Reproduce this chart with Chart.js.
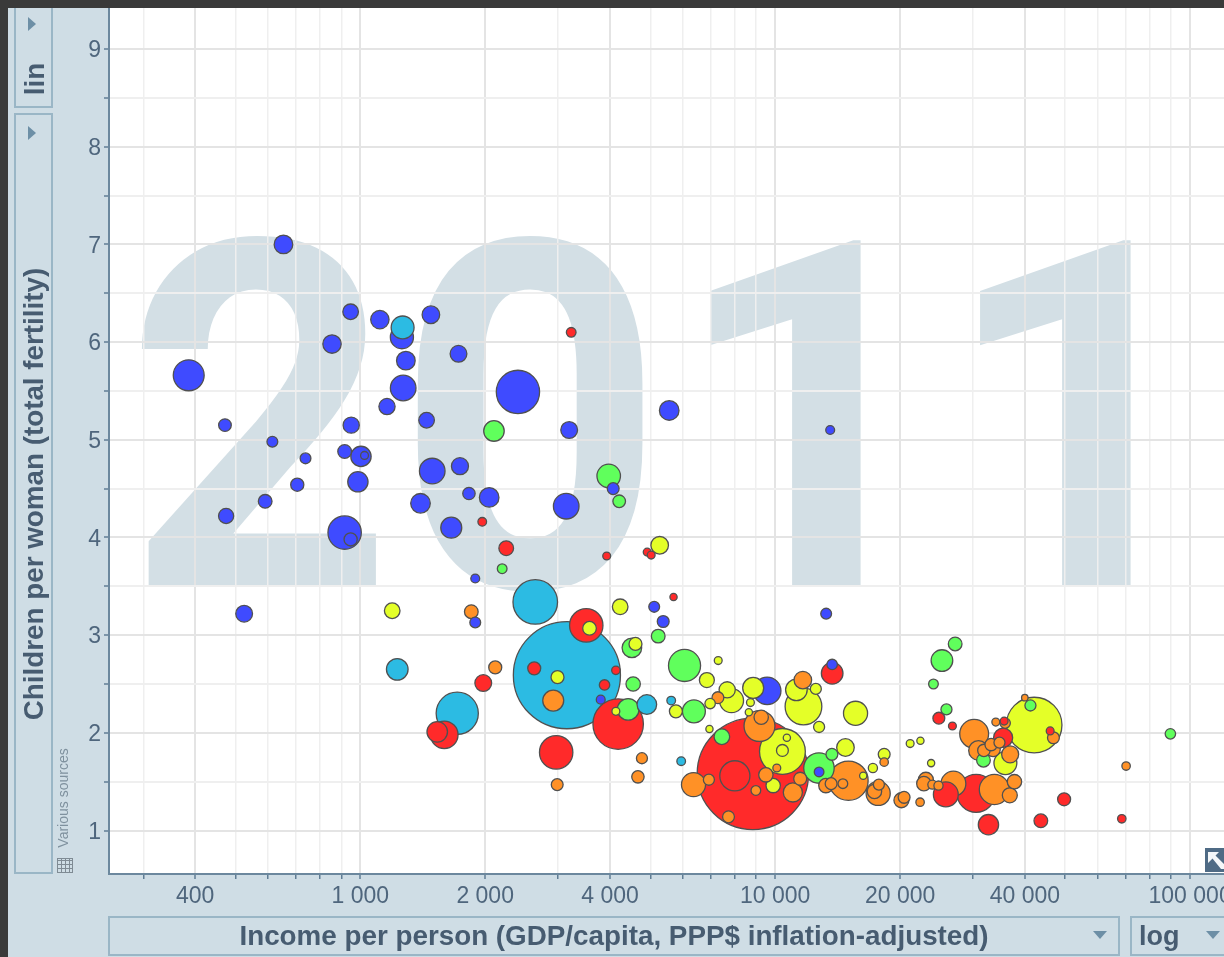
<!DOCTYPE html>
<html>
<head>
<meta charset="utf-8">
<title>Children per woman vs income, 2011</title>
<script src="https://cdn.jsdelivr.net/npm/chart.js@4/dist/chart.umd.min.js"></script>
<style>
    html, body { margin: 0; padding: 0; width: 1224px; height: 957px; overflow: hidden; background: #cfdde5; }
    body { font-family: "Liberation Sans", Arial, sans-serif; position: relative; }
    canvas { position: absolute; left: 0; top: 0; }
    .frameTop { position: absolute; left: 0; top: 0; width: 1224px; height: 8px; background: #3a3a3a; }
    .frameLeft { position: absolute; left: 0; top: 0; width: 8px; height: 957px; background: #3a3a3a; }
    .box { position: absolute; box-sizing: border-box; border: 2px solid #9ab6c6; }
    .label { position: absolute; white-space: nowrap; font-weight: bold; color: #475c71; }
    .rot { transform: translate(-50%, -50%) rotate(-90deg); }
    .right { position: absolute; width: 0; height: 0; border-top: 7px solid transparent; border-bottom: 7px solid transparent; border-left: 8px solid #6d8fa6; }
    .down { position: absolute; width: 0; height: 0; border-left: 7px solid transparent; border-right: 7px solid transparent; border-top: 8px solid #6d8fa6; }
    .sources { position: absolute; white-space: nowrap; font-size: 14px; color: #7f919e; }
    .tableIcon {
        position: absolute; left: 57px; top: 858px; width: 16px; height: 15px; box-sizing: border-box;
        border: 1px solid #7f8b94;
        background-image:
            repeating-linear-gradient(90deg, transparent 0 3px, #7f8b94 3px 4px),
            repeating-linear-gradient(0deg, transparent 0 3px, #7f8b94 3px 4px);
    }
</style>
</head>
<body>
<canvas id="chart" width="1224" height="957"></canvas>

<div class="box" style="left:14px; top:6px; width:39px; height:102px;"></div>
<div class="right" style="left:28px; top:17px;"></div>
<div class="label rot" style="left:35px; top:79px; font-size:28px;">lin</div>

<div class="box" style="left:14px; top:113px; width:39px; height:761px;"></div>
<div class="right" style="left:28px; top:126px;"></div>
<div class="label rot" style="left:34px; top:494px; font-size:27.8px;">Children per woman (total fertility)</div>

<div class="sources rot" style="left:63px; top:798px;">Various sources</div>
<div class="tableIcon"></div>

<div class="box" style="left:108px; top:916px; width:1012px; height:40px;"></div>
<div class="label" style="left:614px; top:936px; font-size:27.8px; transform:translate(-50%,-50%);">Income per person (GDP/capita, PPP$ inflation-adjusted)</div>
<div class="down" style="left:1093px; top:931px;"></div>

<div class="box" style="left:1130px; top:916px; width:110px; height:40px;"></div>
<div class="label" style="left:1139px; top:936px; font-size:27px; transform:translateY(-50%);">log</div>
<div class="down" style="left:1206px; top:931px;"></div>

<svg style="position:absolute; left:1205px; top:848px;" width="19" height="24" viewBox="0 0 19 24">
    <rect width="19" height="24" fill="#4f6b85"/>
    <path d="M3 4 H14 L10.5 7.5 L19 16 L19 21 L16 21 L7.5 10.5 L3 15 Z" fill="#f4f7f9"/>
</svg>

<div class="frameTop"></div>
<div class="frameLeft"></div>

<script>
// Axis ticks
const xTickValues = [300, 400, 500, 600, 700, 800, 900, 1000, 2000, 3000, 4000, 5000, 6000, 7000, 8000, 9000,
    10000, 20000, 30000, 40000, 50000, 60000, 70000, 80000, 90000, 100000];
const xLabelledTicks = [400, 1000, 2000, 4000, 10000, 20000, 40000, 100000];
const yTickValues = [1, 1.5, 2, 2.5, 3, 3.5, 4, 4.5, 5, 5.5, 6, 6.5, 7, 7.5, 8, 8.5, 9];
const yearLabel = '2011';

// Sub-Saharan Africa
const africaIncome = [386, 653, 948, 1115, 855, 1260, 1480, 1288, 1725, 1269, 2399, 1160, 1445, 472, 951, 614,
    917, 1004, 1024, 738, 1491, 1739, 987, 705, 1828, 2045, 590, 1397, 475, 1657, 917, 948,
    3136, 3188, 5554, 525, 1893, 1893, 4070, 13570, 13270, 5110, 5372, 3798, 9566, 13720, 12760];
const africaFertility = [5.66, 7.00, 6.31, 6.23, 5.98, 6.05, 6.28, 5.81, 5.88, 5.53, 5.49, 5.34, 5.20, 5.15, 5.15, 4.98,
    4.88, 4.83, 4.84, 4.81, 4.68, 4.73, 4.57, 4.54, 4.45, 4.41, 4.37, 4.35, 4.22, 4.10, 4.05, 3.98,
    4.32, 5.10, 5.30, 3.22, 3.58, 3.13, 4.50, 5.10, 3.22, 3.29, 3.14, 2.34, 2.43, 2.70, 1.60];
const africaPopulation = [102, 37, 26, 36, 36, 57, 33, 37, 30, 70, 200, 28, 26, 17, 28, 12.5,
    20, 44, 6.6, 12.5, 70, 31, 44, 18.5, 16.4, 41, 20, 41, 24.5, 47, 119, 18.5,
    70, 30, 41, 30, 8.4, 12.5, 15, 8.4, 12.5, 12.5, 15, 8.4, 81, 11.6, 10];

// South Asia
const southAsiaIncome = [1265, 2641, 3148, 1713, 1228, 4906, 5616, 5936];
const southAsiaFertility = [6.15, 3.34, 2.59, 2.20, 2.65, 2.29, 2.33, 1.71];
const southAsiaPopulation = [56, 212, 1225, 190, 50, 41, 8, 8];

// Middle East and North Africa
const middleEastIncome = [2100, 3970, 4208, 2198, 4515, 5225, 4547, 4423, 6047, 6370, 7440, 12750, 13700,
    25230, 27150, 24070, 25870, 41230, 31770, 89640];
const middleEastFertility = [5.09, 4.63, 4.37, 3.68, 2.87, 2.99, 2.50, 2.24, 2.69, 2.22, 1.96, 1.64, 1.78,
    2.74, 2.91, 2.50, 2.24, 2.28, 1.72, 1.99];
const middleEastPopulation = [45, 59, 17, 10, 41, 20, 22, 50, 110, 56, 26, 99, 15,
    50, 20, 10, 13, 13, 20, 11.6];

// America
const americaIncome = [1194, 5268, 4231, 3569, 2988, 4606, 4131, 5764, 6845, 7290, 6970, 7662, 7848, 8851, 8717, 8640,
    6944, 9890, 10410, 10410, 10670, 11250, 11700, 12530, 12760, 15620, 14770, 16300, 17200, 18310, 21150, 22390,
    23760, 42090, 35880];
const americaFertility = [3.25, 3.92, 3.29, 3.07, 2.57, 2.91, 2.22, 2.22, 2.54, 2.74, 2.30, 2.44, 2.33, 2.46, 2.31, 2.21,
    2.04, 1.46, 1.81, 1.82, 1.95, 2.44, 2.27, 2.45, 2.06, 2.20, 1.85, 1.56, 1.64, 1.78, 1.89, 1.92,
    1.69, 2.08, 1.69];
const americaPopulation = [26, 33, 26, 20, 18, 18, 6.6, 18, 24, 6.6, 11.6, 28, 62, 47, 6.6, 5.6,
    5.6, 22, 224, 15, 5.6, 50, 144, 13, 13, 62, 33, 5.6, 9, 15, 6.6, 5.6,
    5.6, 330, 56];

// Europe and Central Asia
const europeIncome = [1852, 2115, 2918, 2983, 4774, 4669, 7277, 6356, 6922, 7718, 8984, 9497, 9166, 9254, 10090,
    11030, 11490, 11660, 13250, 13640, 15020, 14560, 17710, 17350, 17780, 18310, 20150, 20450, 22350, 22820,
    23080, 23930, 24750, 26890, 33750, 36770, 37730, 30170, 30900, 31840, 33510, 33150, 34720, 36840, 34020,
    35830, 46840, 39960, 70110];
const europeFertility = [3.24, 2.67, 2.33, 1.47, 1.74, 1.55, 2.36, 1.47, 1.52, 1.14, 1.41, 1.57, 2.07, 2.16, 1.64,
    1.39, 1.53, 2.54, 1.46, 1.48, 1.51, 1.48, 1.38, 1.40, 1.47, 1.70, 1.31, 1.34, 1.29, 1.48,
    1.52, 1.47, 1.46, 1.48, 1.42, 1.36, 1.50, 1.99, 1.82, 1.82, 1.83, 1.88, 1.90, 1.78, 2.11,
    2.10, 1.95, 2.36, 1.66];
const europePopulation = [20, 18, 47, 15, 13, 16.4, 15, 62, 13, 15, 10, 22, 102, 22, 6.6,
    39, 18, 33, 22, 15, 165, 10, 62, 22, 13, 7.6, 24, 15, 7.6, 22,
    24, 9, 9, 66, 97, 24, 22, 89, 41, 16.4, 22, 16.4, 13, 31, 6.6,
    11.6, 15, 4.5, 7.6];

// East Asia and Pacific
const eastAsiaIncome = [3224, 1968, 2248, 3926, 4915, 5025, 5689, 3505, 2626, 4131, 3879, 1979, 4184, 2966, 1594,
    1533, 8836, 7995, 13720, 24800, 26740, 25780, 30500, 32660, 35430, 35630, 46000, 43680, 49700, 68450];
const eastAsiaFertility = [6.10, 4.16, 3.89, 3.81, 3.85, 3.82, 3.39, 3.10, 2.66, 2.64, 2.49, 2.51, 2.09, 1.80, 1.98,
    2.01, 1.58, 1.56, 2.61, 2.15, 2.07, 1.37, 1.38, 1.06, 1.95, 2.12, 2.02, 1.10, 1.32, 1.12];
const eastAsiaPopulation = [10, 8, 23, 6.6, 6.6, 6.6, 5.6, 119, 18, 7.6, 11.6, 30, 272, 119, 81,
    45, 1326, 97, 50, 15, 6.6, 66, 154, 44, 39, 6.6, 6.6, 20, 18, 7.6];

// Build one table with every country, biggest first so small bubbles stay on top
function addRegion(rows, income, fertility, population, color) {
    income.forEach((value, i) => {
        rows.push({ x: value, y: fertility[i], population: population[i], color: color });
    });
}

const rows = [];
addRegion(rows, africaIncome, africaFertility, africaPopulation, '#3f4bff');
addRegion(rows, southAsiaIncome, southAsiaFertility, southAsiaPopulation, '#2cbbe3');
addRegion(rows, middleEastIncome, middleEastFertility, middleEastPopulation, '#60ff5c');
addRegion(rows, americaIncome, americaFertility, americaPopulation, '#e4ff28');
addRegion(rows, europeIncome, europeFertility, europePopulation, '#ff9126');
addRegion(rows, eastAsiaIncome, eastAsiaFertility, eastAsiaPopulation, '#ff2a2a');
rows.sort((a, b) => b.population - a.population);

// Bubble area follows population
const radiusPerRootMillion = 1.53;
rows.forEach(row => { row.r = Math.sqrt(row.population) * radiusPerRootMillion; });

// White plot area and the big year behind the grid
const plotBackground = {
    id: 'plotBackground',
    beforeDraw(chart) {
        const { ctx, chartArea } = chart;
        ctx.save();
        ctx.fillStyle = '#ffffff';
        ctx.fillRect(chartArea.left, chartArea.top, chartArea.width, chartArea.height);
        ctx.beginPath();
        ctx.rect(chartArea.left, chartArea.top, chartArea.width, chartArea.height);
        ctx.clip();
        ctx.fillStyle = '#d3dfe5';
        ctx.font = 'bold 487px Roboto';
        ctx.textAlign = 'left';
        ctx.textBaseline = 'alphabetic';
        // The round digits run a bit narrower in the original, so each digit gets its own slot
        const digitSlots = [
            { x: 125.7, stretch: 0.96 },
            { x: 396, stretch: 0.96 },
            { x: 670, stretch: 1 },
            { x: 940, stretch: 1 }
        ];
        [...yearLabel].forEach((digit, i) => {
            ctx.save();
            ctx.translate(digitSlots[i].x, 587);
            ctx.scale(digitSlots[i].stretch, 1);
            ctx.fillText(digit, 0, 0);
            ctx.restore();
        });
        ctx.restore();
    }
};

new Chart(document.getElementById('chart').getContext('2d'), {
    type: 'bubble',
    data: {
        datasets: [{
            data: rows,
            backgroundColor: rows.map(row => row.color),
            borderColor: '#505050',
            borderWidth: 1.3,
            hoverBorderWidth: 1.3
        }]
    },
    options: {
        responsive: false,
        animation: false,
        layout: { autoPadding: false, padding: { left: 8, top: 8, right: 0, bottom: 0 } },
        plugins: { legend: { display: false }, tooltip: { enabled: false } },
        scales: {
            x: {
                type: 'logarithmic',
                min: 248,
                max: 120700,
                afterBuildTicks(scale) {
                    scale.ticks = xTickValues.map(value => ({ value: value }));
                },
                afterFit(scale) {
                    scale.height = 83;
                    scale.paddingLeft = 0;
                    scale.paddingRight = 0;
                },
                grid: {
                    color: ctx => xLabelledTicks.includes(ctx.tick.value) ? '#e4e4e4' : '#efefef',
                    lineWidth: ctx => xLabelledTicks.includes(ctx.tick.value) ? 2 : 1.5,
                    tickColor: '#607d94',
                    tickWidth: 1.5,
                    tickLength: 5
                },
                border: { color: '#6c889e', width: 2 },
                ticks: {
                    autoSkip: false,
                    maxRotation: 0,
                    padding: 4,
                    color: '#4f667d',
                    font: { family: '"Liberation Sans"', size: 23 },
                    callback(value) {
                        if (!xLabelledTicks.includes(value)) return '';
                        return String(value).replace(/\B(?=(\d{3})+$)/g, ' ');
                    }
                }
            },
            y: {
                min: 0.555,
                max: 9.42,
                afterBuildTicks(scale) {
                    scale.ticks = yTickValues.map(value => ({ value: value }));
                },
                afterFit(scale) {
                    scale.width = 101;
                    scale.paddingTop = 0;
                    scale.paddingBottom = 0;
                },
                grid: {
                    color: ctx => Number.isInteger(ctx.tick.value) ? '#e4e4e4' : '#efefef',
                    lineWidth: 2,
                    tickColor: '#607d94',
                    tickWidth: 1.5,
                    tickLength: 5
                },
                border: { color: '#6c889e', width: 2 },
                ticks: {
                    autoSkip: false,
                    padding: 3,
                    labelOffset: 2,
                    color: '#4f667d',
                    font: { family: '"Liberation Sans"', size: 23 },
                    callback(value) {
                        return Number.isInteger(value) ? String(value) : '';
                    }
                }
            }
        }
    },
    plugins: [plotBackground]
});
</script>
</body>
</html>
